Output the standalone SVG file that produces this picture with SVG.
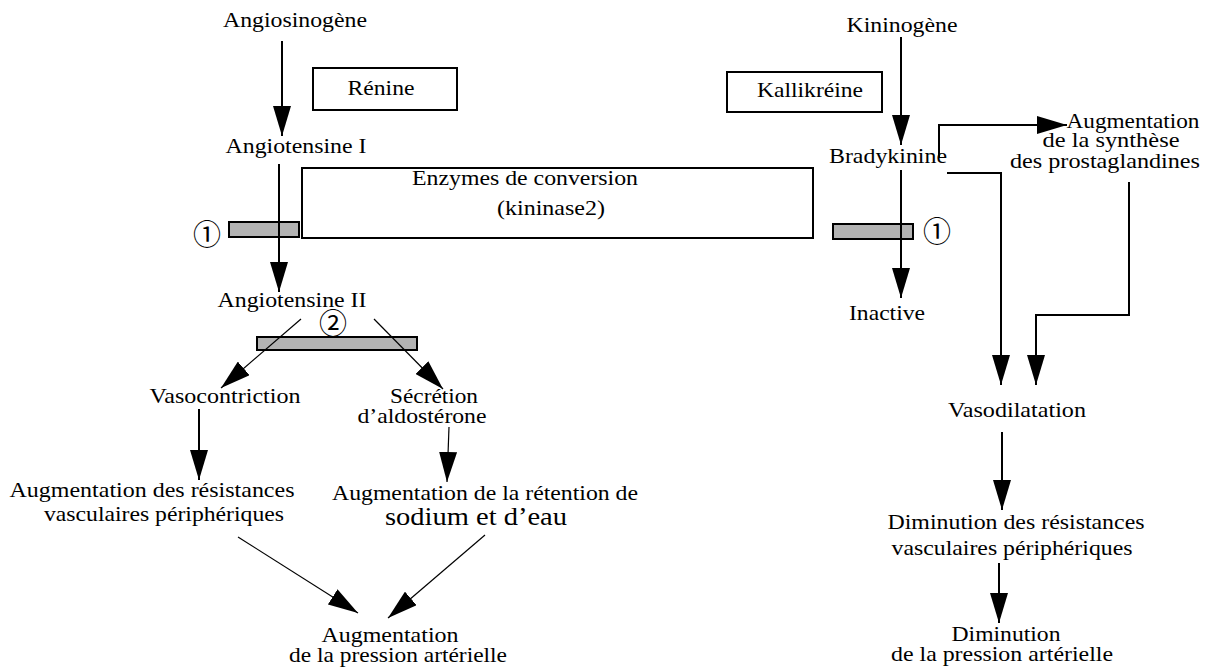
<svg xmlns="http://www.w3.org/2000/svg" width="1210" height="669" viewBox="0 0 1210 669">
<style>
text{font-family:"Liberation Serif","Times New Roman",serif;font-size:21px;fill:#000;text-anchor:middle}
.big{font-size:25px}
.circ{font-family:"Noto Sans CJK JP","DejaVu Sans",sans-serif;font-size:28px;dominant-baseline:central}
.box{fill:#fff;stroke:#000;stroke-width:2}
.bar{fill:#b3b3b3;stroke:#000;stroke-width:2}
.thick{fill:none;stroke:#000;stroke-width:2}
.thin{fill:none;stroke:#000;stroke-width:1.2}
</style>
<defs>
<marker id="ah" viewBox="0 0 30 18" refX="30" refY="9" markerWidth="30" markerHeight="18" markerUnits="userSpaceOnUse" orient="auto">
<path d="M0,0 L30,9 L0,18 z" fill="#000"/>
</marker>
</defs>
<rect width="1210" height="669" fill="#fff"/>
<g id="nodes">
<g id="angiosinogene"><text x="295" y="27" textLength="144" lengthAdjust="spacingAndGlyphs">Angiosinogène</text></g>
<g id="renine"><rect class="box" x="313" y="68" width="144" height="42"/><text x="381" y="95" textLength="67" lengthAdjust="spacingAndGlyphs">Rénine</text></g>
<g id="angiotensine1"><text x="296" y="153" textLength="141" lengthAdjust="spacingAndGlyphs">Angiotensine I</text></g>
<g id="enzymes"><rect class="box" x="302" y="168" width="511" height="70"/><text x="525" y="185" textLength="226" lengthAdjust="spacingAndGlyphs">Enzymes de conversion</text><text x="551" y="215" textLength="108" lengthAdjust="spacingAndGlyphs">(kininase2)</text></g>
<g id="inhib1-left"><rect class="bar" x="229" y="222" width="70" height="15"/><text class="circ" x="207" y="233">①</text></g>
<g id="angiotensine2"><text x="292" y="307" textLength="149" lengthAdjust="spacingAndGlyphs">Angiotensine II</text></g>
<g id="inhib2"><rect class="bar" x="257" y="337" width="160" height="13"/><text class="circ" x="333" y="322">②</text></g>
<g id="vasocontriction"><text x="225" y="403" textLength="151" lengthAdjust="spacingAndGlyphs">Vasocontriction</text></g>
<g id="aldosterone"><text x="434" y="403" textLength="88" lengthAdjust="spacingAndGlyphs">Sécrétion</text><text x="422" y="423" textLength="129" lengthAdjust="spacingAndGlyphs">d’aldostérone</text></g>
<g id="aug-resistances"><text x="152" y="497" textLength="285" lengthAdjust="spacingAndGlyphs">Augmentation des résistances</text><text x="164" y="521" textLength="240" lengthAdjust="spacingAndGlyphs">vasculaires périphériques</text></g>
<g id="aug-retention"><text x="485" y="500" textLength="306" lengthAdjust="spacingAndGlyphs">Augmentation de la rétention de</text><text class="big" x="476" y="525" textLength="182" lengthAdjust="spacingAndGlyphs">sodium et d’eau</text></g>
<g id="aug-pression"><text x="390" y="642" textLength="137" lengthAdjust="spacingAndGlyphs">Augmentation</text><text x="398" y="662" textLength="218" lengthAdjust="spacingAndGlyphs">de la pression artérielle</text></g>
<g id="kininogene"><text x="902" y="32" textLength="111" lengthAdjust="spacingAndGlyphs">Kininogène</text></g>
<g id="kallikreine"><rect class="box" x="727" y="72" width="155" height="40"/><text x="810" y="97" textLength="106" lengthAdjust="spacingAndGlyphs">Kallikréine</text></g>
<g id="bradykinine"><text x="888" y="163" textLength="118" lengthAdjust="spacingAndGlyphs">Bradykinine</text></g>
<g id="prostaglandines"><text x="1133" y="128" textLength="133" lengthAdjust="spacingAndGlyphs">Augmentation</text><text x="1111" y="147" textLength="137" lengthAdjust="spacingAndGlyphs">de la synthèse</text><text x="1105" y="168" textLength="190" lengthAdjust="spacingAndGlyphs">des prostaglandines</text></g>
<g id="inhib1-right"><rect class="bar" x="833" y="224" width="80" height="15"/><text class="circ" x="937" y="230">①</text></g>
<g id="inactive"><text x="887" y="320" textLength="76" lengthAdjust="spacingAndGlyphs">Inactive</text></g>
<g id="vasodilatation"><text x="1017" y="417" textLength="138" lengthAdjust="spacingAndGlyphs">Vasodilatation</text></g>
<g id="dim-resistances"><text x="1016" y="529" textLength="257" lengthAdjust="spacingAndGlyphs">Diminution des résistances</text><text x="1012" y="555" textLength="241" lengthAdjust="spacingAndGlyphs">vasculaires périphériques</text></g>
<g id="dim-pression"><text x="1006" y="641" textLength="109" lengthAdjust="spacingAndGlyphs">Diminution</text><text x="1002" y="661" textLength="222" lengthAdjust="spacingAndGlyphs">de la pression artérielle</text></g>
</g>
<g id="connectors">
<path class="thick" d="M282,41 V136" marker-end="url(#ah)"/>
<path class="thick" d="M279,164 V292" marker-end="url(#ah)"/>
<path class="thin" d="M301,319 L221,388" marker-end="url(#ah)"/>
<path class="thin" d="M374,319 L443,389" marker-end="url(#ah)"/>
<path class="thick" d="M199,409 V480" marker-end="url(#ah)"/>
<path class="thin" d="M449,427 L447,482" marker-end="url(#ah)"/>
<path class="thin" d="M238,537 L358,613" marker-end="url(#ah)"/>
<path class="thin" d="M485,535 L388,618" marker-end="url(#ah)"/>
<path class="thick" d="M901,37 V145" marker-end="url(#ah)"/>
<path class="thick" d="M939,158 V125 H1067" marker-end="url(#ah)"/>
<path class="thick" d="M947,173 H1001 V385" marker-end="url(#ah)"/>
<path class="thick" d="M1129,182 V315 H1036 V385" marker-end="url(#ah)"/>
<path class="thick" d="M901,170 V298" marker-end="url(#ah)"/>
<path class="thick" d="M1002,432 V510" marker-end="url(#ah)"/>
<path class="thick" d="M999,563 V623" marker-end="url(#ah)"/>
</g>
</svg>
